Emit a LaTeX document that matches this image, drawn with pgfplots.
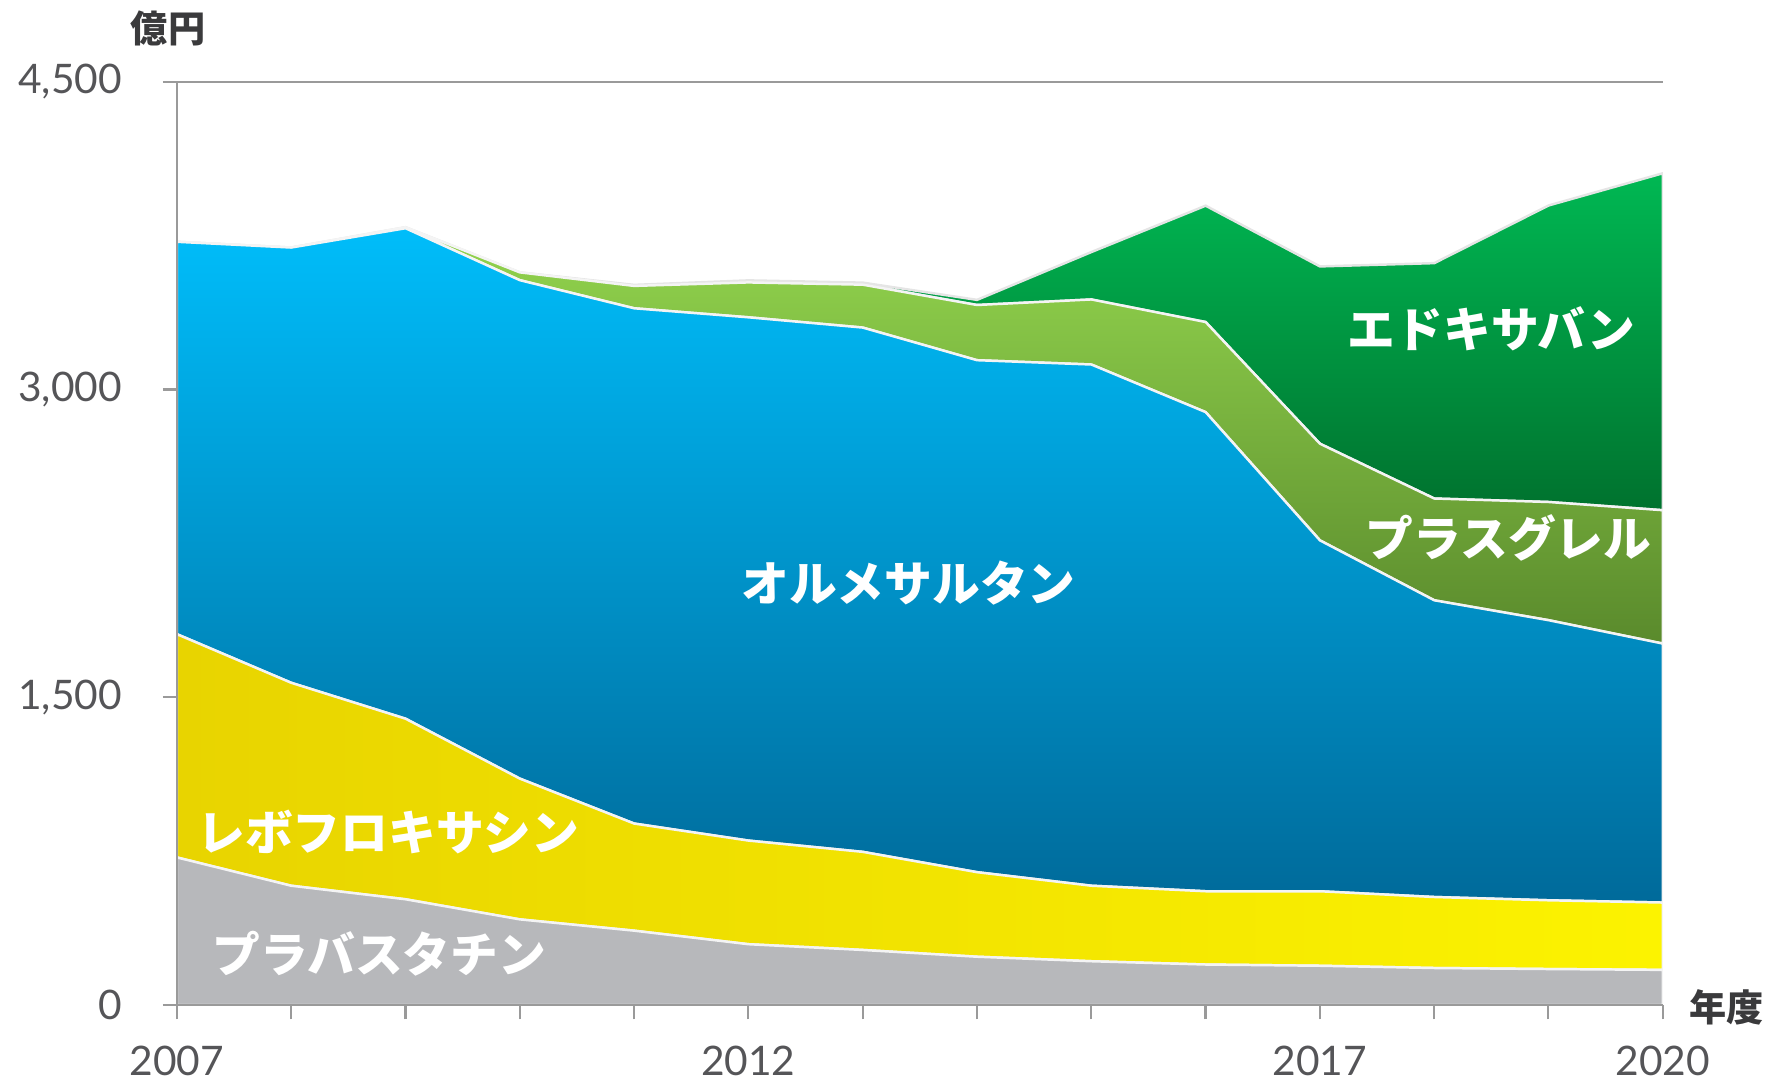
\documentclass[border=0pt]{standalone}
\usepackage{pgfplots}
\pgfplotsset{compat=1.18}
\usepackage{fontspec}
\setmainfont{Lato}
\newfontfamily\cjk{Noto Sans CJK JP}
\definecolor{axisgray}{HTML}{9A9A9A}
\definecolor{ticktext}{HTML}{555558}
\definecolor{lblgray}{HTML}{3A3A3C}
\definecolor{pravgray}{HTML}{B7B8BB}
\definecolor{yelL}{HTML}{E8D400}
\definecolor{yelR}{HTML}{FCF300}
\definecolor{bluT}{HTML}{00BDFA}
\definecolor{bluM}{HTML}{00A3DE}
\definecolor{bluB}{HTML}{006A9A}
\definecolor{lgrT}{HTML}{93D54E}
\definecolor{lgrB}{HTML}{5A8A2C}
\definecolor{grnT}{HTML}{00B853}
\definecolor{grnB}{HTML}{00722E}
\definecolor{edge}{HTML}{F4F4F4}
\begin{document}
\begin{tikzpicture}
\path[use as bounding box] (-50pt,-21.4pt) rectangle (450pt,284.1pt);
\begin{axis}[
  at={(0,0)}, anchor=south west,
  scale only axis, width=420pt, height=261pt,
  xmin=2007, xmax=2020, ymin=0, ymax=4500,
  stack plots=y,
  axis x line*=bottom, axis y line*=left,
  axis line style={draw=axisgray, line width=0.6pt, -},
  tick style={draw=axisgray, line width=0.6pt},
  tick align=outside, major tick length=4pt,
  xtick={2007,...,2020},
  xticklabels={2007,,,,,2012,,,,,2017,,,2020},
  ytick={0,1500,3000},
  yticklabels={0,{1,500},{3,000}},
  extra y ticks={4500}, extra y tick labels={4{,}500},
  extra y tick style={grid=major, major grid style={draw=axisgray, line width=0.6pt}},
  ticklabel style={font=\fontsize{11.5}{12}\selectfont, text=ticktext},
  xticklabel style={yshift=-4pt},
  yticklabel style={xshift=-8pt},
  axis on top,
]
% Pravastatin
\addplot[draw=edge, line width=0.7pt, fill=pravgray] coordinates {
(2007,720) (2008,582) (2009,516) (2010,418) (2011,363) (2012,297) (2013,269)
(2014,236) (2015,214) (2016,198) (2017,192) (2018,181) (2019,176) (2020,172)} \closedcycle;
% Levofloxacin
\addplot[draw=edge, line width=0.7pt, left color=yelL, right color=yelR] coordinates {
(2007,1088) (2008,989) (2009,880) (2010,686) (2011,522) (2012,505) (2013,478)
(2014,412) (2015,368) (2016,357) (2017,363) (2018,346) (2019,335) (2020,328)} \closedcycle;
% Olmesartan
\addplot[draw=edge, line width=0.7pt, top color=bluT, middle color=bluM, bottom color=bluB] coordinates {
(2007,1912) (2008,2121) (2009,2390) (2010,2429) (2011,2511) (2012,2550) (2013,2555)
(2014,2495) (2015,2540) (2016,2335) (2017,1710) (2018,1446) (2019,1365) (2020,1262)} \closedcycle;
% Prasugrel
\addplot[draw=edge, line width=0.7pt, top color=lgrT, bottom color=lgrB] coordinates {
(2007,0) (2008,0) (2009,5) (2010,38) (2011,109) (2012,170) (2013,209)
(2014,269) (2015,317) (2016,439) (2017,471) (2018,496) (2019,576) (2020,650)} \closedcycle;
% Edoxaban
\addplot[draw=white!80!gray, line width=0.7pt, top color=grnT, bottom color=grnB] coordinates {
(2007,0) (2008,0) (2009,0) (2010,0) (2011,5) (2012,10) (2013,10)
(2014,25) (2015,231) (2016,567) (2017,864) (2018,1147) (2019,1445) (2020,1642)} \closedcycle;

\coordinate (lolm) at (axis cs:2013.4,2055);
\coordinate (ledo) at (axis cs:2018.5,3297);
\coordinate (lpra) at (axis cs:2018.65,2275);
\coordinate (llev) at (axis cs:2008.85,846);
\coordinate (lprv) at (axis cs:2008.77,253);
\end{axis}
\tikzset{inlbl/.style={font=\cjk\bfseries\fontsize{13.5}{14}\selectfont, text=white}}
\node[inlbl] at (lolm) {オルメサルタン};
\node[inlbl] at (ledo) {エドキサバン};
\node[inlbl] at (lpra) {プラスグレル};
\node[inlbl] at (llev) {レボフロキサシン};
\node[inlbl] at (lprv) {プラバスタチン};
\node[font=\cjk\bfseries\fontsize{10.5}{11}\selectfont, text=lblgray] at (-2.5pt,276pt) {億円};
\node[font=\cjk\bfseries\fontsize{10.5}{11}\selectfont, text=lblgray] at (438pt,-0.6pt) {年度};
\end{tikzpicture}
\end{document}
